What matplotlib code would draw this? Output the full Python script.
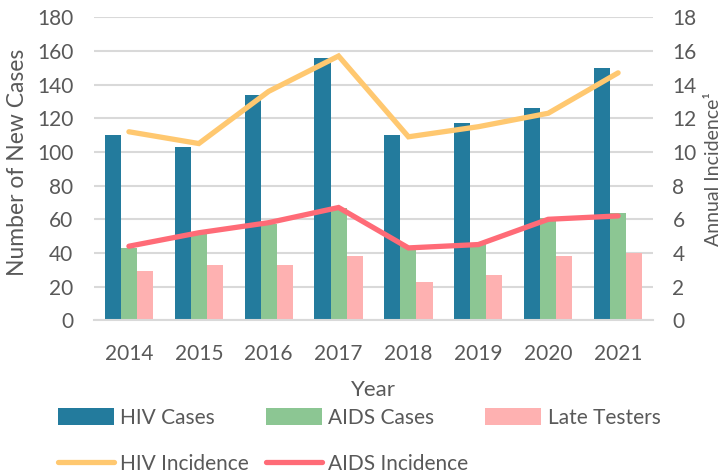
import matplotlib
matplotlib.use("Agg")
import matplotlib.pyplot as plt
import numpy as np

years = ["2014", "2015", "2016", "2017", "2018", "2019", "2020", "2021"]
hiv_cases = [110, 103, 134, 156, 110, 117, 126, 150]
aids_cases = [43, 51, 57, 67, 44, 46, 61, 64]
late_testers = [29, 33, 33, 38, 23, 27, 38, 40]
hiv_incidence = [11.2, 10.5, 13.6, 15.7, 10.9, 11.5, 12.3, 14.7]
aids_incidence = [4.4, 5.2, 5.8, 6.7, 4.3, 4.5, 6.0, 6.2]

plt.rcParams['font.family'] = ['Lato', 'DejaVu Sans']
txt = '#595959'
grid = '#D9D9D9'

fig = plt.figure(figsize=(7.24, 4.75), dpi=100)
ax = fig.add_axes([0.1298, 0.3257, 0.902 - 0.1298, 0.9636 - 0.3257])
ax2 = ax.twinx()

x = np.arange(len(years))
w = 0.23
b1 = ax.bar(x - w, hiv_cases, w, color='#237B9D', label='HIV Cases', zorder=2)
b2 = ax.bar(x, aids_cases, w, color='#8CC693', label='AIDS Cases', zorder=2)
b3 = ax.bar(x + w, late_testers, w, color='#FEB1B1', label='Late Testers', zorder=2)

l1, = ax2.plot(x, hiv_incidence, color='#FFC870', lw=3.8, solid_capstyle='round',
               solid_joinstyle='miter', label='HIV Incidence')
l2, = ax2.plot(x, aids_incidence, color='#FF6B77', lw=3.8, solid_capstyle='round',
               solid_joinstyle='miter', label='AIDS Incidence')

ax.set_xlim(-0.5, len(years) - 0.5)
ax.set_ylim(0, 180)
ax.set_yticks(range(0, 181, 20))
ax2.set_ylim(0, 18)
ax2.set_yticks(range(0, 19, 2))
ax.set_xticks(x)
ax.set_xticklabels(years)

ax.grid(axis='y', color=grid, lw=1.5, zorder=0)
ax.set_axisbelow(True)
for a in (ax, ax2):
    for s in a.spines.values():
        s.set_visible(False)
ax.spines['bottom'].set_visible(True)
ax.spines['bottom'].set_color(grid)
ax.spines['bottom'].set_linewidth(1.5)

ax.tick_params(axis='y', length=0, pad=15, labelsize=15, labelcolor=txt)
ax.tick_params(axis='x', length=0, pad=17, labelsize=15, labelcolor=txt)
ax2.tick_params(axis='y', length=0, pad=14, labelsize=15, labelcolor=txt)

ax.set_ylabel('Number of New Cases', fontsize=16.5, color=txt)
ax.yaxis.set_label_coords(-0.118, 0.52)
ax2.set_ylabel('Annual Incidence¹', fontsize=14, color=txt)
ax2.yaxis.set_label_coords(1.093, 0.5)
fig.text(0.516, 1 - 390 / 475, 'Year', ha='center', va='center', fontsize=16, color=txt)

fig.legend(handles=[b1, l1, b2, l2, b3], ncol=3, loc='upper left',
           bbox_to_anchor=(0.08, 1 - 408 / 475), frameon=False, fontsize=15,
           labelcolor=txt, handlelength=2.7, handleheight=0.9, handletextpad=0.3,
           columnspacing=0.8, labelspacing=1.25, borderaxespad=0, borderpad=0)

fig.savefig('out.png', dpi=100)
